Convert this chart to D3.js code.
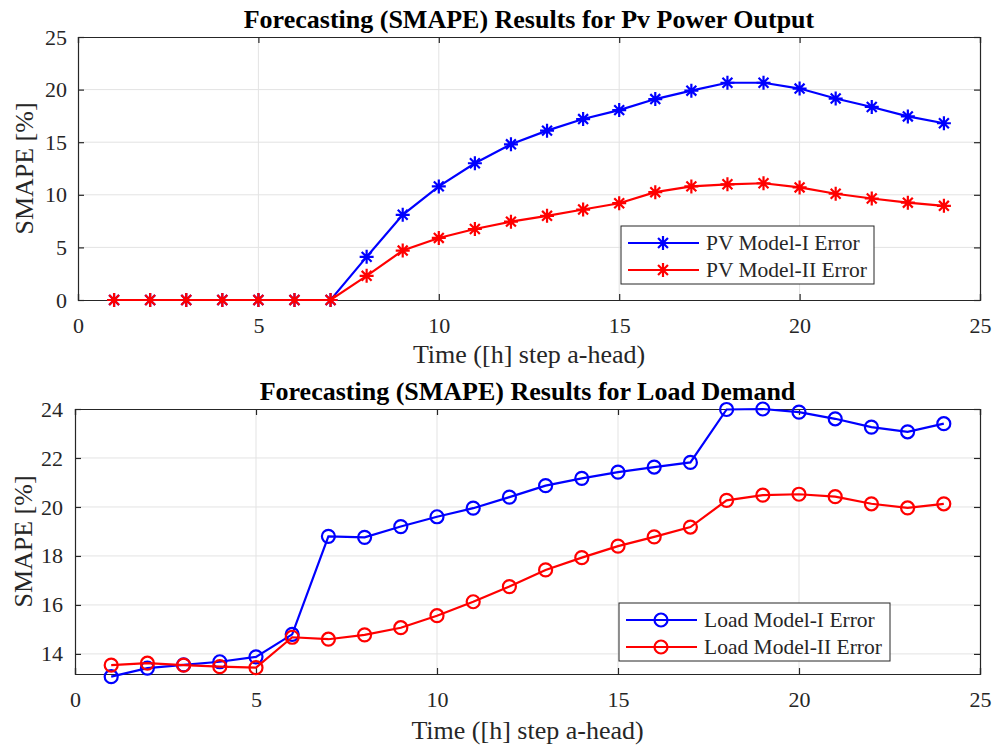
<!DOCTYPE html>
<html>
<head>
<meta charset="utf-8">
<script src="https://cdn.jsdelivr.net/npm/d3@7"></script>
<style>
  body { margin: 0; background: #fff; }
  svg text { font-family: "Liberation Serif", "Times New Roman", serif; fill: #262626; }
</style>
</head>
<body>
<svg id="chart" width="998" height="747"></svg>
<script>
// hours ahead
const hours = d3.range(1, 25);

// PV SMAPE [%]
const pvModel1 = [0, 0, 0, 0, 0, 0, 0, 4.1, 8.1, 10.8, 13.0, 14.8, 16.1, 17.2, 18.05, 19.1, 19.9, 20.65, 20.65, 20.1, 19.15, 18.35, 17.45, 16.8];
const pvModel2 = [0, 0, 0, 0, 0, 0, 0, 2.3, 4.7, 5.9, 6.75, 7.45, 8.0, 8.6, 9.2, 10.25, 10.8, 11.0, 11.1, 10.7, 10.1, 9.65, 9.25, 8.95];

// Load SMAPE [%]
const loadModel1 = [13.07, 13.42, 13.55, 13.68, 13.88, 14.8, 18.8, 18.76, 19.2, 19.6, 19.95, 20.4, 20.87, 21.17, 21.42, 21.63, 21.82, 23.98, 24.0, 23.87, 23.6, 23.26, 23.07, 23.4];
const loadModel2 = [13.54, 13.62, 13.54, 13.48, 13.44, 14.68, 14.6, 14.78, 15.07, 15.56, 16.13, 16.75, 17.43, 17.93, 18.4, 18.78, 19.18, 20.27, 20.48, 20.52, 20.42, 20.13, 19.96, 20.13];

const xTicks = [0, 5, 10, 15, 20, 25];
const pvTicks = [0, 5, 10, 15, 20, 25];
const loadTicks = [14, 16, 18, 20, 22, 24];

const svg = d3.select('#chart');
const axisColor = '#262626';
const gridColor = '#e3e3e3';
const serif = '"Liberation Serif", "Times New Roman", serif';

// MATLAB style '*' marker: plus + times
const asterisk = (r) => {
  const d = r * Math.SQRT1_2;
  return `M${-r},0L${r},0M0,${-r}L0,${r}M${-d},${-d}L${d},${d}M${-d},${d}L${d},${-d}`;
};

const drawPanel = (p) => {
  const x = d3.scaleLinear().domain([0, 25]).range([p.left, p.right]);
  const y = d3.scaleLinear().domain(p.yDomain).range([p.bottom, p.top]);
  const g = svg.append('g');

  // grid
  g.selectAll('.vgrid').data(xTicks.slice(1, -1)).enter().append('line')
    .attr('x1', d => x(d)).attr('x2', d => x(d))
    .attr('y1', p.top).attr('y2', p.bottom)
    .style('stroke', gridColor).style('stroke-width', 1);
  g.selectAll('.hgrid').data(p.yTicks.filter(t => y(t) > p.top + 1 && y(t) < p.bottom - 1)).enter().append('line')
    .attr('x1', p.left).attr('x2', p.right)
    .attr('y1', d => y(d)).attr('y2', d => y(d))
    .style('stroke', gridColor).style('stroke-width', 1);

  // axes with inward ticks on all sides
  const ax = [
    [d3.axisBottom(x).tickValues(xTicks).tickSize(-6).tickPadding(17), `translate(0,${p.bottom})`],
    [d3.axisTop(x).tickValues(xTicks).tickSize(-6).tickFormat(''), `translate(0,${p.top})`],
    [d3.axisLeft(y).tickValues(p.yTicks).tickSize(-6).tickPadding(p.yPad), `translate(${p.left},0)`],
    [d3.axisRight(y).tickValues(p.yTicks).tickSize(-6).tickFormat(''), `translate(${p.right},0)`]
  ];
  ax.forEach(([a, t]) => {
    const ag = g.append('g').attr('transform', t).call(a)
      .attr('font-family', serif).attr('font-size', 22);
    ag.select('.domain').style('stroke', axisColor).style('stroke-width', 1.2);
    ag.selectAll('.tick line').style('stroke', axisColor).style('stroke-width', 1.2);
    ag.selectAll('.tick text').style('font-family', serif)
      .style('font-size', '22px').style('fill', axisColor);
  });

  const line = d3.line().x((d, i) => x(hours[i])).y(d => y(d));

  p.series.forEach(s => {
    g.append('path').datum(s.values)
      .attr('d', line)
      .style('fill', 'none').style('stroke', s.color).style('stroke-width', 2.2);
    const m = g.selectAll(null).data(s.values).enter();
    if (p.marker === 'star') {
      m.append('path')
        .attr('transform', (d, i) => `translate(${x(hours[i])},${y(d)})`)
        .attr('d', asterisk(7))
        .style('fill', 'none').style('stroke', s.color).style('stroke-width', 2.2);
    } else {
      m.append('circle')
        .attr('cx', (d, i) => x(hours[i])).attr('cy', d => y(d)).attr('r', 6.5)
        .style('fill', 'none').style('stroke', s.color).style('stroke-width', 2.2);
    }
  });

  // titles and labels
  g.append('text').attr('x', (p.left + p.right) / 2).attr('y', p.top - 9)
    .attr('text-anchor', 'middle').style('font-size', '26px').style('font-weight', 'bold')
    .style('fill', '#000').text(p.title);
  g.append('text').attr('x', (p.left + p.right) / 2).attr('y', p.bottom + p.xLabelGap)
    .attr('text-anchor', 'middle').style('font-size', '26px').text('Time ([h] step a-head)');
  g.append('text').attr('transform', `translate(${p.yLabelX},${(p.top + p.bottom) / 2}) rotate(-90)`)
    .attr('text-anchor', 'middle').style('font-size', '26px').text('SMAPE [%]');

  // legend
  const L = p.legend;
  const lg = g.append('g');
  lg.append('rect').attr('x', L.x).attr('y', L.y).attr('width', L.w).attr('height', L.h)
    .style('fill', '#fff').style('stroke', axisColor).style('stroke-width', 1);
  p.series.forEach((s, i) => {
    const cy = L.y + 17 + i * 27;
    lg.append('line').attr('x1', L.x + 7).attr('x2', L.x + 78).attr('y1', cy).attr('y2', cy)
      .style('stroke', s.color).style('stroke-width', 2.2);
    if (p.marker === 'star') {
      lg.append('path').attr('transform', `translate(${L.x + 42},${cy})`).attr('d', asterisk(7))
        .style('fill', 'none').style('stroke', s.color).style('stroke-width', 2.2);
    } else {
      lg.append('circle').attr('cx', L.x + 42).attr('cy', cy).attr('r', 6.5)
        .style('fill', 'none').style('stroke', s.color).style('stroke-width', 2.2);
    }
    lg.append('text').attr('x', L.x + 85).attr('y', cy + 7)
      .style('font-size', '21.5px').text(s.name);
  });
};

drawPanel({
  left: 78, right: 980, top: 37, bottom: 300,
  yDomain: [0, 25], yTicks: pvTicks, yLabelX: 33, yPad: 11, xLabelGap: 63, marker: 'star',
  title: 'Forecasting (SMAPE) Results for Pv Power Output',
  series: [
    { name: 'PV Model-I Error', values: pvModel1, color: '#0000ff' },
    { name: 'PV Model-II Error', values: pvModel2, color: '#ff0000' }
  ],
  legend: { x: 621, y: 226, w: 253, h: 58 }
});

drawPanel({
  left: 75, right: 980, top: 409, bottom: 674,
  yDomain: [13.18, 24], yTicks: loadTicks, yLabelX: 32, yPad: 12, xLabelGap: 65, marker: 'circle',
  title: 'Forecasting (SMAPE) Results for Load Demand',
  series: [
    { name: 'Load Model-I Error', values: loadModel1, color: '#0000ff' },
    { name: 'Load Model-II Error', values: loadModel2, color: '#ff0000' }
  ],
  legend: { x: 619, y: 603, w: 271, h: 58 }
});
</script>
</body>
</html>
